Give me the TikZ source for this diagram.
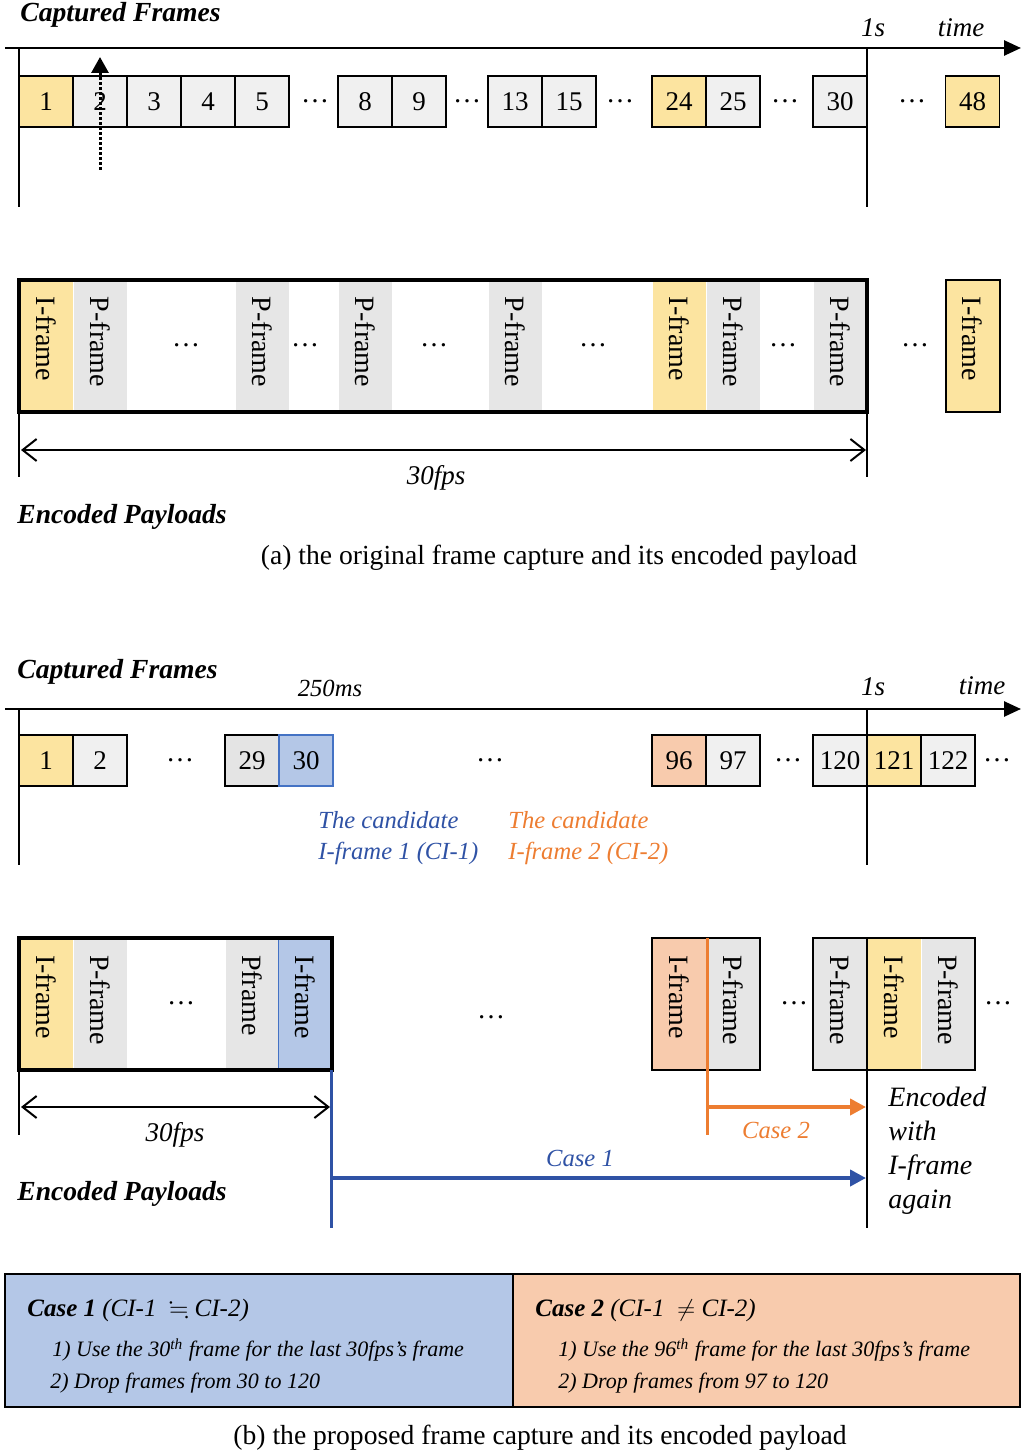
\documentclass[tikz,border=0pt]{standalone}
\usepackage{amssymb}
\usepackage{amsmath}
\usepackage{fontspec}
\setmainfont{Liberation Serif}
\usetikzlibrary{arrows.meta}

\definecolor{fyellow}{HTML}{FCE4A0}
\definecolor{fgray}{HTML}{F0F0F0}
\definecolor{fgrays}{HTML}{E6E6E6}
\definecolor{fgrayb}{HTML}{E4E4E4}
\definecolor{fblue}{HTML}{B4C7E7}
\definecolor{fsalmon}{HTML}{F8CBAD}
\definecolor{cblue}{HTML}{2F52A5}
\definecolor{cbluel}{HTML}{4472C4}
\definecolor{corange}{HTML}{ED7D31}

\tikzset{
  frm/.style={draw, line width=0.9pt, fill=fgray, minimum width=27pt, minimum height=25.5pt, inner sep=0pt, font=\fontsize{13.5}{16}\selectfont},
  slc/.style={rotate=-90, fill=fgrays, draw=white, line width=0.4pt, minimum width=66pt, minimum height=27pt, text width=49pt, inner xsep=8.5pt, inner ysep=0pt, align=left, font=\fontsize{14}{16}\selectfont},
  dts/.style={inner sep=0pt, font=\fontsize{14}{16}\selectfont},
  lbl/.style={inner sep=0pt, font=\fontsize{13.5}{16}\selectfont\itshape},
  lbls/.style={inner sep=0pt, font=\fontsize{12.3}{15}\selectfont\itshape},
  ttl/.style={inner sep=0pt, anchor=west, font=\fontsize{13.8}{16}\selectfont\bfseries\itshape},
  captxt/.style={inner sep=0pt, font=\fontsize{13.8}{16}\selectfont},
  cst/.style={inner sep=0pt, anchor=west, font=\fontsize{12.5}{15}\selectfont\itshape},
  csl/.style={inner sep=0pt, anchor=west, font=\fontsize{11}{13}\selectfont\itshape},
  taxis/.style={line width=1.3pt, -{Triangle[length=8.5pt,width=7.5pt]}},
  tk/.style={line width=1pt},
  fpsarr/.style={line width=1pt, {Straight Barb[length=7pt,width=11pt]}-{Straight Barb[length=7pt,width=11pt]}},
  encbox/.style={line width=1.6pt},
  smallbox/.style={line width=1pt},
}

\begin{document}
\begin{tikzpicture}[x=0.5pt,y=-0.5pt]
\useasboundingbox (0,0) rectangle (1023,1454);

\node[ttl] (capA) at (20,15) {Captured Frames};
\coordinate (axA0) at (5,48);
\coordinate (axA1) at (1021,48);
\draw[taxis] (axA0) -- (axA1);
\node[lbl] (oneA) at (873,28) {1s};
\node[lbl] (timeA) at (961,28) {time};
\draw[tk] (19,48) -- (19,207);
\draw[tk] (867,48) -- (867,207);

\node[frm,fill=fyellow] (a1) at (46,101.5) {1};
\node[frm] (a2) at (100,101.5) {2};
\node[frm] (a3) at (154,101.5) {3};
\node[frm] (a4) at (208,101.5) {4};
\node[frm] (a5) at (262,101.5) {5};
\node[dts] (da1) at (315,101.5) {…};
\node[frm] (a8) at (365,101.5) {8};
\node[frm] (a9) at (419,101.5) {9};
\node[dts] (da2) at (467,101.5) {…};
\node[frm] (a13) at (515,101.5) {13};
\node[frm] (a15) at (569,101.5) {15};
\node[dts] (da3) at (620,101.5) {…};
\node[frm,fill=fyellow] (a24) at (679,101.5) {24};
\node[frm] (a25) at (733,101.5) {25};
\node[dts] (da4) at (785,101.5) {…};
\node[frm] (a30) at (840,101.5) {30};
\node[dts] (da5) at (912,101.5) {…};
\node[frm,fill=fyellow] (a48) at (972.5,101.5) {48};

\coordinate (ptA0) at (100,170);
\coordinate (ptA1) at (100,57);
\draw[line width=1.5pt, densely dotted, -{Triangle[length=8pt,width=8.5pt]}] (ptA0) -- (ptA1);

\node[slc,fill=fyellow] (sa1) at (46,346) {I-frame};
\node[slc] (sa2) at (100,346) {P-frame};
\node[dts] (dsa1) at (186,345) {…};
\node[slc] (sa5) at (262,346) {P-frame};
\node[dts] (dsa2) at (305,345) {…};
\node[slc] (sa8) at (365,346) {P-frame};
\node[dts] (dsa3) at (434,345) {…};
\node[slc] (sa13) at (515,346) {P-frame};
\node[dts] (dsa4) at (593,345) {…};
\node[slc,fill=fyellow] (sa24) at (679,346) {I-frame};
\node[slc] (sa25) at (733,346) {P-frame};
\node[dts] (dsa5) at (783,345) {…};
\node[slc] (sa30) at (840,346) {P-frame};
\draw[encbox] (19,280) rectangle (867,412);
\node[dts] (dsa6) at (915,345) {…};
\node[slc,fill=fyellow,draw=black,line width=1pt] (sa48) at (972.5,346) {I-frame};

\draw[tk] (19,412) -- (19,477);
\draw[tk] (867,412) -- (867,477);
\coordinate (fpsA0) at (21,450);
\coordinate (fpsA1) at (866,450);
\draw[fpsarr] (fpsA0) -- (fpsA1);
\node[lbl] (fpsA) at (436,478) {30fps};
\node[ttl] (encA) at (17,517) {Encoded Payloads};
\node[captxt] (capa) at (559,558) {(a) the original frame capture and its encoded payload};

\node[ttl] (capB) at (17,672) {Captured Frames};
\node[lbls] (msB) at (330,688) {250ms};
\coordinate (axB0) at (5,709);
\coordinate (axB1) at (1021,709);
\draw[taxis] (axB0) -- (axB1);
\node[lbl] (oneB) at (873,687) {1s};
\node[lbl] (timeB) at (982,686) {time};
\draw[tk] (19,709) -- (19,865);
\draw[tk] (867,709) -- (867,865);

\node[frm,fill=fyellow] (b1) at (46,760.5) {1};
\node[frm] (b2) at (100,760.5) {2};
\node[dts] (db1) at (180,760.5) {…};
\node[frm,fill=fgrayb] (b29) at (252,760.5) {29};
\node[frm,fill=fblue,draw=cbluel] (b30) at (306,760.5) {30};
\node[dts] (db2) at (490,760.5) {…};
\node[frm,fill=fsalmon] (b96) at (679,760.5) {96};
\node[frm] (b97) at (733,760.5) {97};
\node[dts] (db3) at (788,760.5) {…};
\node[frm] (b120) at (840,760.5) {120};
\node[frm,fill=fyellow] (b121) at (894,760.5) {121};
\node[frm] (b122) at (948,760.5) {122};
\node[dts] (db4) at (997,760.5) {…};

\node[lbls,text=cblue,anchor=west] (candA) at (318,820) {The candidate};
\node[lbls,text=cblue,anchor=west] (candAb) at (318,853) {I-frame 1 (CI-1)};
\node[lbls,text=corange,anchor=west] (candB) at (508,820) {The candidate};
\node[lbls,text=corange,anchor=west] (candBb) at (508,853) {I-frame 2 (CI-2)};

\node[slc,fill=fyellow] (sb1) at (46,1004) {I-frame};
\node[slc] (sb2) at (100,1004) {P-frame};
\node[dts] (dsb1) at (181,1003) {…};
\node[slc] (sb29) at (252,1004) {Pframe};
\node[slc,fill=fblue,draw=cbluel] (sb30) at (305.5,1004) {I-frame};
\draw[encbox] (19,938) rectangle (332,1070);
\node[dts] (dsb2) at (491,1017) {…};
\node[slc,fill=fsalmon] (sb96) at (679,1004) {I-frame};
\node[slc] (sb97) at (733,1004) {P-frame};
\draw[smallbox] (652,938) rectangle (760,1070);
\node[dts] (dsb3) at (794,1003) {…};
\node[slc] (sb120) at (840,1004) {P-frame};
\node[slc,fill=fyellow] (sb121) at (894,1004) {I-frame};
\node[slc] (sb122) at (948,1004) {P-frame};
\draw[smallbox] (813,938) rectangle (975,1070);
\node[dts] (dsb4) at (998,1003) {…};

\coordinate (sec0) at (867,938);
\coordinate (sec1) at (867,1228);
\draw[line width=1.2pt] (sec0) -- (sec1);

\coordinate (ctwo0) at (707,938);
\coordinate (ctwo1) at (707,1135);
\draw[corange,line width=1.5pt] (ctwo0) -- (ctwo1);
\coordinate (ctwoA) at (707,1107);
\coordinate (ctwoB) at (866,1107);
\draw[corange,line width=2pt,-{Triangle[length=8pt,width=8pt]}] (ctwoA) -- (ctwoB);
\node[lbls,text=corange] (casetwo) at (776,1130) {Case 2};

\coordinate (cone0) at (331,1070);
\coordinate (cone1) at (331,1228);
\draw[cblue,line width=1.5pt] (cone0) -- (cone1);
\coordinate (coneA) at (331,1178);
\coordinate (coneB) at (866,1178);
\draw[cblue,line width=2pt,-{Triangle[length=8pt,width=8pt]}] (coneA) -- (coneB);
\node[lbls,text=cblue] (caseone) at (580,1158) {Case 1};

\draw[tk] (19,1070) -- (19,1135);
\coordinate (fpsB0) at (21,1107);
\coordinate (fpsB1) at (330,1107);
\draw[fpsarr] (fpsB0) -- (fpsB1);
\node[lbl] (fpsB) at (175,1135) {30fps};
\node[ttl] (encB) at (17,1194) {Encoded Payloads};
\node[lbl,anchor=west,align=left,font=\fontsize{14}{17}\selectfont\itshape] (again) at (888,1151) {Encoded\\with\\I-frame\\again};

\draw[line width=1pt,fill=fblue] (5,1274) rectangle (513,1407);
\draw[line width=1pt,fill=fsalmon] (513,1274) rectangle (1020,1407);
\node[cst] (ctone) at (27,1310) {\textbf{Case 1} (CI-1\ \ $\fallingdotseq$ CI-2)};
\node[csl] (ctoneA) at (52,1350) {1) Use the 30\textsuperscript{th} frame for the last 30fps’s frame};
\node[csl] (ctoneB) at (50,1383) {2) Drop frames from 30 to 120};
\node[cst] (cttwo) at (535,1310) {\textbf{Case 2} (CI-1\ \ $\neq$ CI-2)};
\node[csl] (cttwoA) at (558,1350) {1) Use the 96\textsuperscript{th} frame for the last 30fps’s frame};
\node[csl] (cttwoB) at (558,1383) {2) Drop frames from 97 to 120};
\node[captxt] (capb) at (540,1438) {(b) the proposed frame capture and its encoded payload};
\end{tikzpicture}
\end{document}
